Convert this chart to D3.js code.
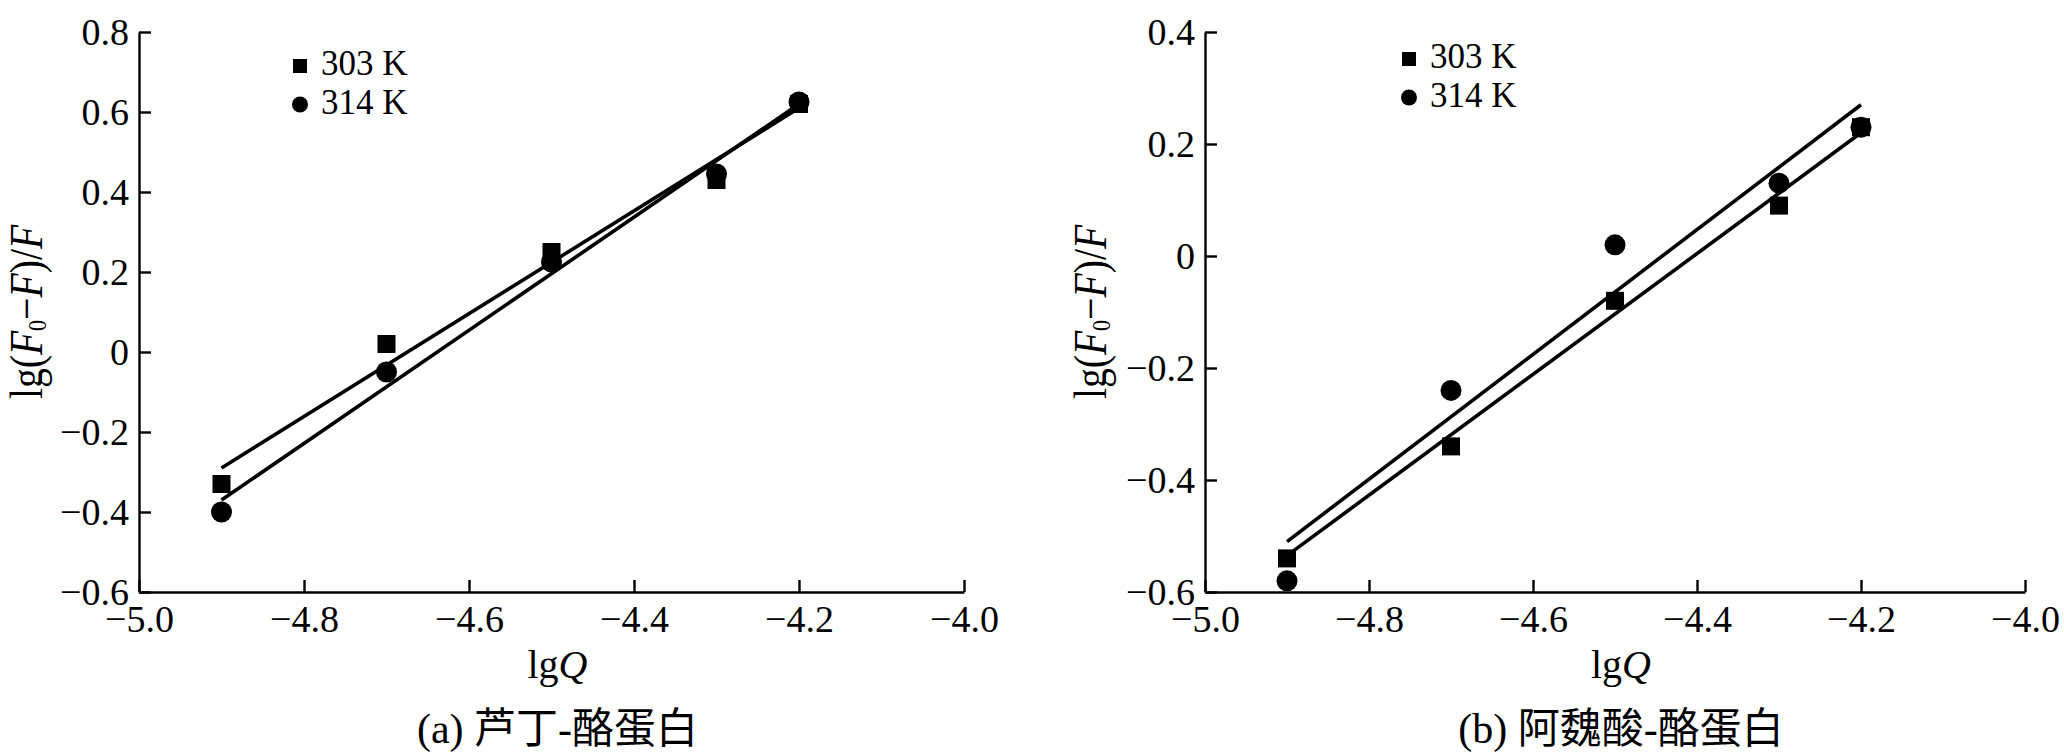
<!DOCTYPE html>
<html>
<head>
<meta charset="utf-8">
<script src="https://cdn.jsdelivr.net/npm/d3@7"></script>
<style>
    body {margin: 0; background: #fff;}
</style>
</head>
<body>
<svg id="chart" width="2064" height="754"></svg>
<script>
// values
const lgQ = [-4.9, -4.7, -4.5, -4.3, -4.2]

// (a) rutin - casein
const rutin303 = [-0.33, 0.02, 0.25, 0.43, 0.62]
const rutin314 = [-0.40, -0.05, 0.225, 0.445, 0.625]
// (b) ferulic acid - casein
const ferulic303 = [-0.54, -0.34, -0.08, 0.09, 0.23]
const ferulic314 = [-0.58, -0.24, 0.02, 0.13, 0.23]

// fitted lines, ends read at lgQ = -4.9 and -4.2
const fitX = [-4.9, -4.2]
const rutinFit303 = [-0.29, 0.61]
const rutinFit314 = [-0.37, 0.62]
const ferulicFit303 = [-0.535, 0.22]
const ferulicFit314 = [-0.51, 0.27]

const xTicks = [-5.0, -4.8, -4.6, -4.4, -4.2, -4.0]
const yTicksA = [-0.6, -0.4, -0.2, 0, 0.2, 0.4, 0.6, 0.8]
const yTicksB = [-0.6, -0.4, -0.2, 0, 0.2, 0.4]
const legendLabels = ["303 K", "314 K"]
const captions = ["(a) 芦丁-酪蛋白", "(b) 阿魏酸-酪蛋白"]

const serif = "'Liberation Serif', 'Times New Roman', serif"
const cjk = "'Liberation Serif', 'Noto Sans CJK SC', serif"
const tickFont = 38
const tickLen = 12

const svg = d3.select("#chart")
svg.append("rect").attr("width", 2064).attr("height", 754).attr("fill", "#fff")

const panels = [
    {left: 139, right: 964, top: 32, bottom: 592, yDomain: [-0.6, 0.8], yTicks: yTicksA,
        s303: rutin303, s314: rutin314, f303: rutinFit303, f314: rutinFit314,
        legX: 300, legY: 66, labX: 42, caption: captions[0]},
    {left: 1205, right: 2025, top: 32, bottom: 592, yDomain: [-0.6, 0.4], yTicks: yTicksB,
        s303: ferulic303, s314: ferulic314, f303: ferulicFit303, f314: ferulicFit314,
        legX: 1409, legY: 59, labX: 1106, caption: captions[1]},
]

function yFormat(d) {
    return d === 0 ? "0" : d3.format(".1f")(d)
}

function drawPanel(p) {
    const x = d3.scaleLinear().domain([-5.0, -4.0]).range([p.left, p.right])
    const y = d3.scaleLinear().domain(p.yDomain).range([p.bottom, p.top])
    const g = svg.append("g")

    // axes, ticks pointing inward
    const xAxis = g.append("g")
        .attr("transform", `translate(0,${p.bottom})`)
        .call(d3.axisBottom(x).tickValues(xTicks).tickFormat(d3.format(".1f"))
            .tickSizeInner(-tickLen).tickSizeOuter(0).tickPadding(13))
    const yAxis = g.append("g")
        .attr("transform", `translate(${p.left},0)`)
        .call(d3.axisLeft(y).tickValues(p.yTicks).tickFormat(yFormat)
            .tickSizeInner(-tickLen).tickSizeOuter(0).tickPadding(10))

    ;[xAxis, yAxis].forEach(a => {
        a.attr("font-family", serif).attr("font-size", tickFont)
        a.select(".domain").attr("stroke", "#000").attr("stroke-width", 2.4)
        a.selectAll(".tick line").attr("stroke", "#000").attr("stroke-width", 2.4)
        a.selectAll(".tick text")
            .attr("fill", "#000")
            .style("font-family", serif)
            .style("font-size", `${tickFont}px`)
    })
    xAxis.selectAll(".tick text").attr("dy", "0.71em")
    yAxis.selectAll(".tick text").attr("dy", "0.34em")

    // fitted lines
    const line = d3.line().x(d => x(d[0])).y(d => y(d[1]))
    ;[p.f303, p.f314].forEach(f => {
        g.append("path")
            .attr("d", line(fitX.map((v, i) => [v, f[i]])))
            .attr("fill", "none")
            .attr("stroke", "#000")
            .attr("stroke-width", 3.6)
    })

    // markers
    const sq = 18
    g.append("g").selectAll("rect")
        .data(lgQ.map((v, i) => [v, p.s303[i]]))
        .enter()
        .append("rect")
        .attr("x", d => x(d[0]) - sq/2)
        .attr("y", d => y(d[1]) - sq/2)
        .attr("width", sq)
        .attr("height", sq)
        .attr("fill", "#000")
    g.append("g").selectAll("circle")
        .data(lgQ.map((v, i) => [v, p.s314[i]]))
        .enter()
        .append("circle")
        .attr("cx", d => x(d[0]))
        .attr("cy", d => y(d[1]))
        .attr("r", 10.5)
        .attr("fill", "#000")

    // legend
    const leg = g.append("g").attr("font-family", serif).attr("font-size", 35)
    leg.append("rect")
        .attr("x", p.legX - 7).attr("y", p.legY - 7)
        .attr("width", 14).attr("height", 14)
        .attr("fill", "#000")
    leg.append("circle")
        .attr("cx", p.legX).attr("cy", p.legY + 38.5)
        .attr("r", 8)
        .attr("fill", "#000")
    leg.selectAll("text")
        .data(legendLabels)
        .enter()
        .append("text")
        .attr("x", p.legX + 21)
        .attr("y", (d, i) => p.legY + 8.5 + i*39)
        .text(d => d)

    const midX = (p.left + p.right)/2 + 6

    // x label
    const xl = g.append("text")
        .attr("x", midX).attr("y", 678)
        .attr("text-anchor", "middle")
        .attr("font-family", serif).attr("font-size", 40)
    xl.append("tspan").text("lg")
    xl.append("tspan").attr("font-style", "italic").text("Q")

    // y label  lg(F0-F)/F
    const midY = (p.top + p.bottom)/2
    const yl = g.append("text")
        .attr("transform", `translate(${p.labX},${midY}) rotate(-90) scale(0.86,1)`)
        .attr("text-anchor", "middle")
        .attr("font-family", serif).attr("font-size", 46)
    yl.append("tspan").text("lg(")
    yl.append("tspan").attr("font-style", "italic").text("F")
    yl.append("tspan").attr("font-size", 26).attr("dy", 4).text("0")
    yl.append("tspan").attr("dy", -4).text("\u2212")
    yl.append("tspan").attr("font-style", "italic").text("F")
    yl.append("tspan").text(")/")
    yl.append("tspan").attr("font-style", "italic").text("F")

    // caption
    g.append("text")
        .attr("x", midX).attr("y", 743)
        .attr("text-anchor", "middle")
        .attr("font-family", cjk).attr("font-size", 42)
        .text(p.caption)
}

panels.forEach(drawPanel)
</script>
</body>
</html>
